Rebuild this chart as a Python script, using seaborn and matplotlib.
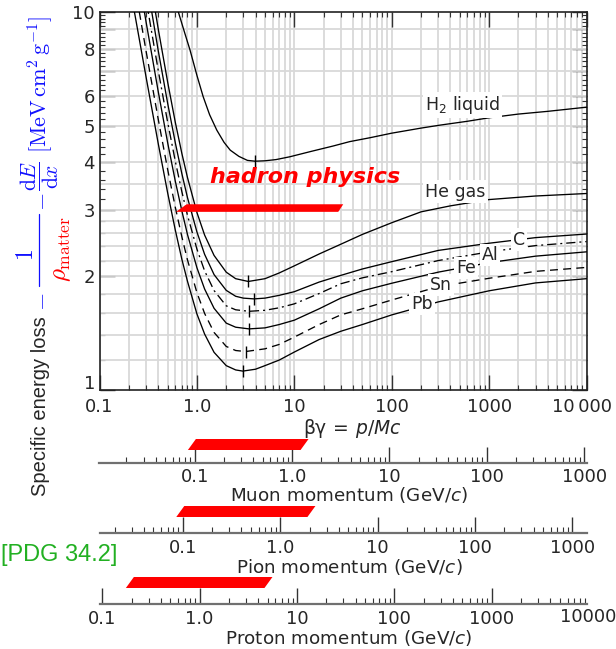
import matplotlib
matplotlib.use("Agg")
import matplotlib.pyplot as plt
import matplotlib.transforms as mtransforms
from matplotlib.lines import Line2D
from matplotlib.ticker import FixedLocator, FixedFormatter, NullFormatter, LogLocator
import numpy as np
import seaborn as sns

# mean energy loss curves: beta*gamma -> MeV cm2/g
h2_bg = [0.6, 0.645, 0.75, 0.85, 1.0, 1.16, 1.35, 1.6, 1.9, 2.2, 2.7, 3.3, 3.96, 5, 6.5,
         9, 15, 25, 37, 60, 100, 200, 313, 600, 1000, 2000, 4000, 10000]
h2_dedx = [10.9, 10.0, 8.8, 7.93, 6.8, 5.97, 5.35, 4.87, 4.52, 4.31, 4.15, 4.05, 4.03, 4.04, 4.07,
           4.14, 4.28, 4.42, 4.54, 4.65, 4.78, 4.93, 5.02, 5.14, 5.25, 5.37, 5.46, 5.6]

he_bg = [0.3, 0.4, 0.5, 0.6, 0.7, 0.8, 1.0, 1.2, 1.5, 2.0, 2.5, 3.37, 5, 7, 10, 18, 30, 50,
         100, 200, 400, 1000, 3000, 10000]
he_dedx = [14.15, 9.05, 6.54, 5.11, 4.23, 3.65, 2.95, 2.57, 2.27, 2.05, 1.97, 1.937, 1.97, 2.04,
           2.13, 2.29, 2.43, 2.58, 2.77, 2.96, 3.07, 3.19, 3.26, 3.31]

c_bg = [0.3, 0.4, 0.5, 0.6, 0.7, 0.8, 1.0, 1.2, 1.5, 2.0, 2.5, 3.0, 3.86, 5, 7, 10, 18, 30, 50,
        100, 300, 1000, 3000, 10000]
c_dedx = [12.35, 7.93, 5.75, 4.51, 3.74, 3.23, 2.62, 2.285, 2.02, 1.835, 1.77, 1.75, 1.742, 1.75,
          1.78, 1.82, 1.93, 2.01, 2.09, 2.185, 2.34, 2.445, 2.53, 2.586]

al_bg = [0.25, 0.3, 0.4, 0.5, 0.6, 0.7, 0.8, 1.0, 1.2, 1.5, 2.0, 2.5, 3.43, 5, 7, 10, 18, 30, 50,
         100, 300, 1000, 3000, 10000]
al_dedx = [14.4, 10.83, 7.03, 5.12, 4.03, 3.35, 2.90, 2.36, 2.066, 1.833, 1.67, 1.63, 1.615, 1.625,
           1.65, 1.69, 1.80, 1.91, 1.98, 2.056, 2.2, 2.32, 2.41, 2.47]

fe_bg = [0.25, 0.3, 0.4, 0.5, 0.6, 0.7, 0.8, 1.0, 1.2, 1.5, 2.0, 2.5, 3.43, 5, 7, 10, 18, 30, 50,
         100, 300, 1000, 3000, 10000]
fe_dedx = [12.48, 9.45, 6.18, 4.52, 3.57, 2.98, 2.58, 2.107, 1.85, 1.645, 1.503, 1.466, 1.451, 1.46,
           1.49, 1.53, 1.64, 1.75, 1.83, 1.916, 2.05, 2.172, 2.26, 2.32]

sn_bg = [0.2, 0.25, 0.3, 0.4, 0.5, 0.6, 0.7, 0.8, 1.0, 1.2, 1.5, 2.0, 2.5, 3.16, 5, 7, 10, 18, 30,
         50, 100, 300, 1000, 3000, 10000]
sn_dedx = [14.5, 10.38, 7.91, 5.22, 3.84, 3.045, 2.545, 2.21, 1.81, 1.594, 1.42, 1.304, 1.272, 1.264,
           1.285, 1.32, 1.38, 1.49, 1.58, 1.64, 1.73, 1.876, 1.975, 2.06, 2.11]

pb_bg = [0.18, 0.2, 0.25, 0.3, 0.4, 0.5, 0.6, 0.7, 0.8, 1.0, 1.2, 1.5, 2.0, 2.5, 2.96, 4, 5, 7, 10,
         18, 30, 50, 100, 300, 1000, 3000, 10000]
pb_dedx = [14.0, 12.1, 8.78, 6.75, 4.5, 3.33, 2.65, 2.22, 1.94, 1.59, 1.406, 1.258, 1.16, 1.13, 1.122,
           1.135, 1.16, 1.20, 1.26, 1.36, 1.43, 1.49, 1.58, 1.71, 1.83, 1.92, 1.97]

# minima (marked with a small tick)
min_bg = [3.96, 3.37, 3.86, 3.43, 3.43, 3.16, 2.96]
min_dedx = [4.03, 1.937, 1.742, 1.615, 1.451, 1.264, 1.122]

# curve labels
label_text = [r"H$_2$ liquid", "He gas", "C", "Al", "Fe", "Sn", "Pb"]
label_bg = [220, 220, 2028, 1021, 575, 318, 203]
label_dedx = [5.68, 3.35, 2.50, 2.276, 2.10, 1.896, 1.689]

# particle masses in GeV/c^2
mass_muon = 0.10566
mass_pion = 0.13957
mass_proton = 0.93827

# ranges marked with the red "hadron physics" strokes
band_bg = [0.61, 31.8]
band_dedx = [2.96, 3.10]
band_muon = [0.0854, 1.48]
band_pion = [0.0857, 2.3]
band_proton = [0.175, 5.6]

xticks_bg = [0.1, 1, 10, 100, 1000, 10000]
xtick_labels = ["0.1", "1.0", "10", "100", "1000", ""]
yticks = [1, 2, 3, 4, 5, 6, 7, 8, 9, 10]
ytick_labels = ["", "2", "3", "4", "5", "6", "", "8", "", "10"]
ygrid = [1.2, 1.4, 1.6, 1.8, 2, 2.2, 2.4, 2.6, 2.8, 3, 3.5, 4, 5, 6, 7, 8, 9]
mom_ticks = [0.1, 1, 10, 100, 1000]
mom_labels = ["0.1", "1.0", "10", "100", "1000"]

RED = "#ff0000"
BLUE = "#1010ff"
GRID = "#d9d9d9"

W, H = 616, 649
X0, X1 = 99.5, 586.5   # main axes left/right in pixels
Y0, Y1 = 12, 390       # main axes top/bottom in pixels


def ftext(xp, yp, s, **kw):
    return fig.text(xp / W, 1 - yp / H, s, **kw)


sns.set_theme(style="white")
plt.rcParams["font.family"] = ["DejaVu Sans"]
plt.rcParams["axes.linewidth"] = 1.2

fig = plt.figure(figsize=(W / 100, H / 100), dpi=100)
ax = fig.add_axes([X0 / W, 1 - Y1 / H, (X1 - X0) / W, (Y1 - Y0) / H])
ax.set_xscale("log")
ax.set_yscale("log")
ax.set_xlim(0.1, 1e4)
ax.set_ylim(1, 10)
ax.set_axisbelow(True)
for s in ax.spines.values():
    s.set_color("#222222")
    s.set_linewidth(1.2)

ax.xaxis.set_major_locator(FixedLocator(xticks_bg))
ax.xaxis.set_major_formatter(FixedFormatter(xtick_labels))
ax.xaxis.set_minor_locator(LogLocator(base=10, subs=np.arange(2, 10)))
ax.xaxis.set_minor_formatter(NullFormatter())
ax.yaxis.set_major_locator(FixedLocator(yticks))
ax.yaxis.set_major_formatter(FixedFormatter(ytick_labels))
yminor = [v for v in np.round(np.arange(1.2, 10, 0.2), 1) if abs(v - round(v)) > 1e-6]
ax.yaxis.set_minor_locator(FixedLocator(yminor))
ax.yaxis.set_minor_formatter(NullFormatter())
ax.tick_params(which="both", direction="in", top=True, right=True, bottom=True, left=True,
               color="#333333")
ax.tick_params(which="major", length=10.5, width=1.0, labelsize=13)
ax.tick_params(which="minor", length=3.6, width=0.8)
ax.tick_params(axis="x", which="major", pad=5.5)
ax.tick_params(axis="y", which="major", pad=3.2)

ax.grid(which="both", axis="x", color=GRID, lw=1.3)
for g in ygrid:
    ax.axhline(g, color=GRID, lw=1.3, zorder=0.6)

curves = [
    (h2_bg, h2_dedx, "-"),
    (he_bg, he_dedx, "-"),
    (c_bg, c_dedx, "-"),
    (al_bg, al_dedx, (0, (7, 3, 1.5, 3))),
    (fe_bg, fe_dedx, "-"),
    (sn_bg, sn_dedx, (0, (6, 4))),
    (pb_bg, pb_dedx, "-"),
]
for bg, dedx, ls in curves:
    sns.lineplot(x=bg, y=dedx, ax=ax, color="black", linewidth=0.95, linestyle=ls,
                 estimator=None, sort=False, zorder=3)

ax.plot(min_bg, min_dedx, ls="none", marker="|", ms=8, mew=1.0, color="black", zorder=4)

for txt, xb, yv in zip(label_text, label_bg, label_dedx):
    ha = "left" if len(txt) > 2 else "center"
    ax.text(xb, yv, txt, ha=ha, va="center", fontsize=12.5, zorder=5,
            bbox=dict(facecolor="white", edgecolor="none", pad=1.5))

# red stroke + text on the main panel
k_left = 10 ** (10.7 / 97.4)
k_right = 10 ** (5 / 97.4)
ax.fill([band_bg[0], band_bg[0] * k_left, band_bg[1], band_bg[1] / k_right],
        [band_dedx[0], band_dedx[1], band_dedx[1], band_dedx[0]],
        color=RED, lw=0, zorder=6)
ax.text(12.9, 3.66, "hadron physics", ha="center", va="center", color=RED, fontsize=16,
        fontweight="bold", fontstyle="italic", zorder=6)

# corner labels placed by hand so "1" and "0.1" do not collide
ftext(95, 384, "1", ha="right", va="center", fontsize=13)
ftext(582, 407, "10\u2009000", ha="center", va="center", fontsize=13)
ftext(352, 428, r"βγ$\,=\,$$p/Mc$", ha="center", va="center", fontsize=13.5)


def momentum_axis(y_line, mass, band, band_top, band_bot, name, name_y, extra=None):
    m = fig.add_axes([X0 / W, 1 - y_line / H, (X1 - X0) / W, 0.5 / H])
    m.set_xscale("log")
    m.set_xlim(0.1 * mass, 1e4 * mass)
    m.patch.set_alpha(0)
    m.set_yticks([])
    for side in ["top", "left", "right"]:
        m.spines[side].set_visible(False)
    m.spines["bottom"].set_color("#707070")
    m.spines["bottom"].set_linewidth(1.6)
    m.xaxis.set_major_locator(FixedLocator(mom_ticks))
    m.xaxis.set_major_formatter(FixedFormatter(mom_labels))
    m.xaxis.set_minor_locator(LogLocator(base=10, subs=np.arange(2, 10)))
    m.xaxis.set_minor_formatter(NullFormatter())
    m.tick_params(axis="x", which="both", direction="in", color="#333333", bottom=True)
    m.tick_params(axis="x", which="major", length=11.5, width=1.0, labelsize=13, pad=4)
    m.tick_params(axis="x", which="minor", length=4.3, width=0.8)
    tf = mtransforms.blended_transform_factory(m.transData, fig.transFigure)
    k = 10 ** (8 / 97.4)
    yt, yb = 1 - band_top / H, 1 - band_bot / H
    m.fill([band[0], band[0] * k, band[1], band[1] / k], [yb, yt, yt, yb],
           transform=tf, color=RED, lw=0, clip_on=False, zorder=5)
    if extra is not None:
        m.text(extra[0], 1 - extra[1] / H, extra[2], transform=tf, ha="center", va="center",
               fontsize=13, clip_on=False)
    ftext(349, name_y, name, ha="center", va="center", fontsize=13.2)
    return m


momentum_axis(462.7, mass_muon, band_muon, 439, 450, r"Muon momentum (GeV/$c$)", 495)
momentum_axis(533.3, mass_pion, band_pion, 506, 517, r"Pion momentum (GeV/$c$)", 567)
momentum_axis(604, mass_proton, band_proton, 577, 588, r"Proton momentum (GeV/$c$)", 638,
              extra=(9700, 617, "10000"))

# y axis title built from pieces (black / blue / red)
ftext(41, 406, "Specific energy loss", rotation=90, ha="center", va="center",
      fontsize=14.5, family="Liberation Sans")
ftext(40, 302, r"$-$", rotation=90, ha="center", va="center", color=BLUE, fontsize=17,
      math_fontfamily="cm")
ftext(26, 255, r"$1$", rotation=90, ha="center", va="center", color=BLUE, fontsize=17,
      math_fontfamily="cm")
fig.add_artist(Line2D([39 / W, 39 / W], [1 - 214 / H, 1 - 286 / H], color=BLUE, lw=0.9))
ftext(61, 249, r"$\rho_{\mathrm{matter}}$", rotation=90, ha="center", va="center", color=RED,
      fontsize=18, math_fontfamily="cm")
ftext(40, 202, r"$-$", rotation=90, ha="center", va="center", color=BLUE, fontsize=17,
      math_fontfamily="cm")
ftext(40, 176, r"$\dfrac{\mathrm{d}E}{\mathrm{d}x}$", rotation=90, ha="center", va="center",
      color=BLUE, fontsize=15.5, math_fontfamily="cm")
ftext(40, 84, r"$[\mathrm{MeV\,cm^2\,g^{-1}}]$", rotation=90, ha="center", va="center",
      color=BLUE, fontsize=16, math_fontfamily="cm")

ftext(1, 555, "[PDG 34.2]", ha="left", va="center", color="#22b022", fontsize=17,
      family="Liberation Sans")

fig.savefig("out.png", dpi=100)
